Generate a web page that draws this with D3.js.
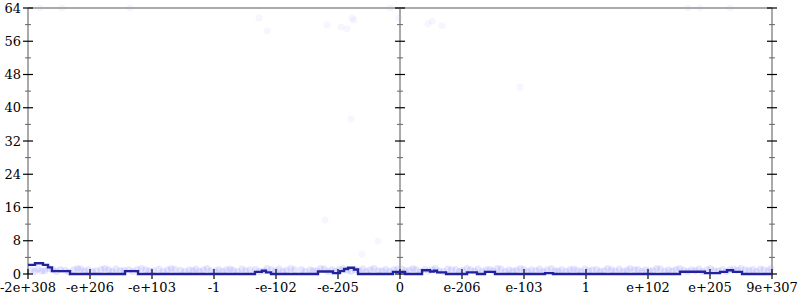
<!DOCTYPE html>
<html>
<head>
<meta charset="utf-8">
<script src="https://cdn.jsdelivr.net/npm/d3@7"></script>
<style>
  body { margin: 0; background: #fff; }
  svg { display: block; font-family: "DejaVu Serif", serif; }
</style>
</head>
<body>
<div id="chart"></div>
<script>
'use strict';

// x positions are in "tick units": 0 .. 12, one unit per labelled tick
var xTickLabels = ["-2e+308", "-e+206", "-e+103", "-1", "-e-102", "-e-205", "0",
  "e-206", "e-103", "1", "e+102", "e+205", "9e+307"];
var yTicks = [0, 8, 16, 24, 32, 40, 48, 56, 64];
var yMinorTicks = [4, 12, 20, 28, 36, 44, 52, 60];

// step line (histogram) edges and values
var histEdges = [0, 0.113, 0.242, 0.323, 0.387, 0.677, 1.565, 1.774, 3.661, 3.774, 3.839,
  3.919, 4.677, 4.919, 5.032, 5.097, 5.161, 5.258, 5.323, 5.887, 6.081, 6.355, 6.484,
  6.548, 6.597, 6.742, 7.081, 7.242, 7.371, 7.532, 8.339, 8.468, 10.516, 10.919, 11.161,
  11.274, 11.371, 11.516, 12];
var histValues = [2.2, 2.6, 2.2, 1.6, 0.7, 0, 0.7, 0, 0.5, 0.8, 0.4, 0, 0.6, 0.2, 0.7, 1.2,
  1.5, 1.1, 0, 0.5, 0, 0.9, 0.6, 0.8, 0.4, 0, 0.4, 0, 0.5, 0, 0.2, 0, 0.55, 0.2, 0.5, 0.9,
  0.5, 0];

// samples (faint dots): a dense band near the bottom, a few stragglers higher up
var bandX = [0.05, 0.11, 0.16, 0.22, 0.27, 0.33, 0.4, 0.46, 0.52, 0.6, 0.66, 0.74, 0.8,
  0.85, 0.91, 0.97, 1.04, 1.1, 1.18, 1.24, 1.3, 1.36, 1.42, 1.49, 1.55, 1.63, 1.69, 1.76,
  1.83, 1.9, 1.96, 2.02, 2.11, 2.18, 2.25, 2.31, 2.37, 2.46, 2.53, 2.6, 2.66, 2.71, 2.77,
  2.83, 2.89, 2.95, 3.02, 3.08, 3.14, 3.2, 3.26, 3.31, 3.38, 3.45, 3.51, 3.58, 3.67, 3.73,
  3.8, 3.86, 3.93, 3.99, 4.05, 4.11, 4.17, 4.24, 4.3, 4.41, 4.47, 4.55, 4.6, 4.66, 4.72,
  4.78, 4.84, 4.9, 4.96, 5.02, 5.08, 5.15, 5.21, 5.28, 5.34, 5.4, 5.46, 5.52, 5.58, 5.65,
  5.71, 5.77, 5.83, 5.9, 5.96, 6.03, 6.09, 6.15, 6.21, 6.26, 6.33, 6.4, 6.46, 6.52, 6.57,
  6.63, 6.7, 6.77, 6.83, 6.9, 6.96, 7.01, 7.08, 7.14, 7.2, 7.26, 7.33, 7.39, 7.45, 7.5,
  7.57, 7.63, 7.7, 7.76, 7.82, 7.88, 7.94, 8.0, 8.06, 8.12, 8.19, 8.25, 8.31, 8.37, 8.44,
  8.5, 8.55, 8.61, 8.68, 8.74, 8.8, 8.86, 8.92, 8.98, 9.04, 9.1, 9.17, 9.23, 9.29, 9.35,
  9.41, 9.47, 9.54, 9.6, 9.66, 9.71, 9.78, 9.84, 9.9, 9.96, 10.02, 10.08, 10.14, 10.2,
  10.27, 10.33, 10.39, 10.45, 10.51, 10.58, 10.64, 10.7, 10.76, 10.82, 10.88, 10.95, 11.01,
  11.07, 11.13, 11.2, 11.26, 11.32, 11.38, 11.44, 11.5, 11.57, 11.63, 11.69, 11.75, 11.81,
  11.87, 11.94, 11.98];
var bandY = [1, 0.6, 1.2, 0.7, 0.8, 1.3, 1, 0.6, 1.1, 0.9, 0.5, 1, 1.3, 1.2, 0.7, 1, 0.6,
  0.8, 1.1, 1.3, 1, 0.6, 1.2, 0.8, 0.9, 1, 0.6, 1.1, 1.3, 1, 0.7, 0.8, 1.2, 0.6, 1, 1.3,
  1.1, 0.9, 0.6, 1, 0.8, 1.2, 0.6, 1, 1.3, 0.8, 0.7, 1.1, 0.6, 1, 1.2, 0.9, 0.6, 1.2, 0.8,
  1, 1.1, 0.6, 0.8, 1.3, 1, 0.7, 1.2, 0.6, 0.9, 1.3, 1, 1.1, 0.6, 1, 0.8, 0.8, 1.3, 1.2,
  0.6, 1, 0.7, 1.1, 1.3, 0.9, 0.6, 1, 0.8, 1.2, 0.6, 1, 1.3, 0.8, 0.7, 1.1, 0.6, 1, 1.2,
  1.2, 0.8, 0.9, 1.3, 1, 0.6, 1.1, 0.7, 1, 1.3, 0.8, 0.6, 1.2, 1, 1.1, 0.6, 0.9, 1.3, 1,
  0.7, 1.2, 0.6, 1, 1.1, 0.8, 1.3, 1.2, 0.6, 1, 0.7, 0.9, 1.3, 1.1, 0.6, 1, 0.8, 1.2,
  0.6, 1, 1.3, 0.8, 0.7, 1.1, 0.6, 1, 1.2, 0.9, 0.6, 1.2, 0.8, 1, 1.1, 0.6, 0.8, 1.3, 1,
  0.7, 1.2, 0.6, 0.9, 1.3, 1, 1.1, 0.6, 1, 0.8, 0.8, 1.3, 1.2, 0.6, 1, 0.7, 1.1, 1.3,
  0.9, 0.6, 1, 0.8, 1.2, 0.6, 1, 1.3, 0.8, 0.7, 1.1, 0.6, 1, 1.2, 0.9, 1.3, 1, 0.8, 1.1,
  0.6, 1.2, 1, 0.7, 1.3, 0.9, 1, 0.6, 1.1, 0.8, 1.2, 1];
var strayX = [0.194, 0.548, 1.645, 3.726, 3.855, 4.79, 4.823, 5.048, 5.145, 5.21, 5.226,
  5.258, 5.387, 5.645, 5.839, 5.984, 6.452, 6.516, 6.677, 7.935, 10.645, 10.839, 11.323];
var strayY = [64, 64, 64, 61.6, 58.5, 13, 59.9, 59.4, 59, 37.3, 61.6, 61.1, 4.8, 7.9, 64,
  61.6, 60.2, 60.9, 59.7, 45, 64, 64, 64];

var margins = { top: 8, right: 28, bottom: 26, left: 28 };
var width = 800 - margins.left - margins.right;
var height = 300 - margins.top - margins.bottom;

var svg = d3.select('#chart').append('svg')
  .attr('width', 800)
  .attr('height', 300);

var chart = svg.append('g')
  .attr('transform', 'translate(' + margins.left + ',' + margins.top + ')');

var x = d3.scaleLinear().domain([0, xTickLabels.length - 1]).range([0, width]);
var y = d3.scaleLinear().domain([0, 64]).range([height, 0]);

function appendDots(xs, ys, opacity) {
  var n = Math.min(xs.length, ys.length);
  chart.append('g')
    .selectAll('circle')
    .data(d3.range(n))
    .enter().append('circle')
    .attr('cx', function(i) { return x(xs[i]); })
    .attr('cy', function(i) { return y(ys[i]); })
    .attr('r', 3.5)
    .attr('fill', '#4848ff')
    .attr('fill-opacity', opacity);
}

appendDots(bandX, bandY, 0.13);
appendDots(strayX, strayY, 0.05);

// frame lines: top, left, middle (x = 0), right
chart.append('line')
  .attr('x1', 0).attr('x2', width)
  .attr('y1', 0).attr('y2', 0)
  .attr('stroke', '#aaa').attr('stroke-width', 2);

var axisPositions = [0, 6, 12];
axisPositions.forEach(function(p) {
  var g = chart.append('g').attr('transform', 'translate(' + x(p) + ',0)');
  g.append('line')
    .attr('y1', 0).attr('y2', height)
    .attr('stroke', '#aaa').attr('stroke-width', 2);
  g.selectAll('line.minor')
    .data(yMinorTicks)
    .enter().append('line')
    .attr('class', 'minor')
    .attr('x1', -3).attr('x2', 3)
    .attr('y1', function(d) { return y(d); })
    .attr('y2', function(d) { return y(d); })
    .attr('stroke', '#666').attr('stroke-width', 1);
  g.selectAll('line.major')
    .data(yTicks)
    .enter().append('line')
    .attr('class', 'major')
    .attr('x1', -5).attr('x2', 5)
    .attr('y1', function(d) { return y(d); })
    .attr('y2', function(d) { return y(d); })
    .attr('stroke', '#000').attr('stroke-width', 1.2);
});

// y labels on the left
chart.append('g')
  .selectAll('text')
  .data(yTicks)
  .enter().append('text')
  .attr('x', -7)
  .attr('y', function(d) { return y(d); })
  .attr('dy', '0.35em')
  .attr('text-anchor', 'end')
  .attr('font-size', 13)
  .attr('fill', '#000')
  .text(function(d) { return d; });

// x ticks and labels
var xt = chart.append('g')
  .selectAll('g')
  .data(xTickLabels)
  .enter().append('g')
  .attr('transform', function(d, i) { return 'translate(' + x(i) + ',' + height + ')'; });

xt.append('line')
  .attr('y1', -5).attr('y2', 5)
  .attr('stroke', '#000').attr('stroke-width', 1.2);

xt.append('text')
  .attr('y', 18)
  .attr('text-anchor', 'middle')
  .attr('font-size', 13)
  .attr('fill', '#000')
  .text(function(d) { return d; });

// step line
var stepPoints = histValues.map(function(v, i) { return [histEdges[i], v]; });
stepPoints.push([histEdges[histEdges.length - 1], histValues[histValues.length - 1]]);

var line = d3.line()
  .x(function(d) { return x(d[0]); })
  .y(function(d) { return y(d[1]); })
  .curve(d3.curveStepAfter);

chart.append('path')
  .datum(stepPoints)
  .attr('d', line)
  .attr('fill', 'none')
  .attr('stroke', '#22229e')
  .attr('stroke-width', 2.4);
</script>
</body>
</html>
